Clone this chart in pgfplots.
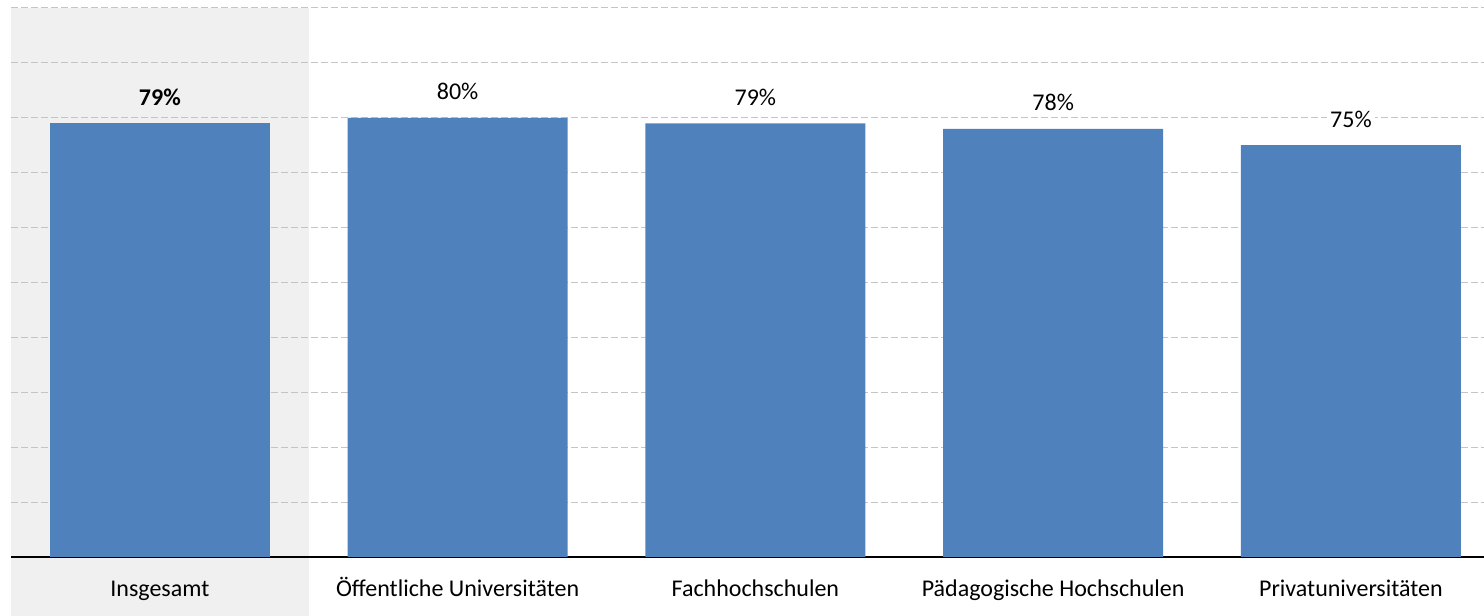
\documentclass[border=0pt]{standalone}
\usepackage{fontspec}
\setmainfont{Carlito}
\usepackage{pgfplots}
\pgfplotsset{compat=1.18}
\usetikzlibrary{calc}
\definecolor{barblue}{HTML}{4F81BD}
\definecolor{gridgray}{HTML}{C4C4C4}
\definecolor{hlgray}{HTML}{F0F0F0}

\begin{document}
\begin{tikzpicture}
\begin{axis}[
 set layers,
 scale only axis, width=736.5pt, height=274.5pt,
 xmin=-0.5, xmax=4.447, ymin=0, ymax=100,
 axis x line*=bottom, axis y line*=left,
 x axis line style={-, black, line width=0.75pt},
 y axis line style={draw=none},
 ytick={0,10,...,100}, yticklabels={}, ytick style={draw=none},
 ymajorgrids,
 grid style={gridgray, line width=0.5pt, dash pattern=on 3.5pt off 1.5pt},
 xtick={0,1,2,3,4}, xtick style={draw=none},
 xticklabels={Insgesamt, Öffentliche Universitäten, Fachhochschulen,
 Pädagogische Hochschulen, Privatuniversitäten},
 xticklabel style={anchor=base, yshift=-15.5pt,
 font=\fontsize{12}{14}\selectfont},
 clip=false,
 ybar, bar width=110pt,
 nodes near coords={\pgfmathprintnumber[assume math mode=true]{\pgfplotspointmeta}\%},
 every node near coord/.append style={anchor=base, yshift=9pt,
 font=\fontsize{12}{14}\selectfont, inner sep=1.5pt},
]

% highlighted first category, reaching down under the tick label
\begin{pgfonlayer}{axis background}
 \fill[hlgray] (axis cs:-0.5,100) rectangle (axis cs:0.5,-10.75);
\end{pgfonlayer}

% Insgesamt (bold label)
\addplot[fill=barblue, draw=none, bar shift=0pt,
 every node near coord/.append style={font=\fontsize{12}{14}\selectfont\bfseries}]
 coordinates {(0,79)};

% types of institutions
\addplot[fill=barblue, draw=none, bar shift=0pt,
 every node near coord/.append style={fill=white}]
 coordinates {(1,80) (2,79) (3,78) (4,75)};

\end{axis}
\pgfresetboundingbox
\path[use as bounding box] ($(current axis.south west)+(-5.5pt,-29.5pt)$)
 rectangle ($(current axis.north east)+(0,4pt)$);
\end{tikzpicture}
\end{document}
